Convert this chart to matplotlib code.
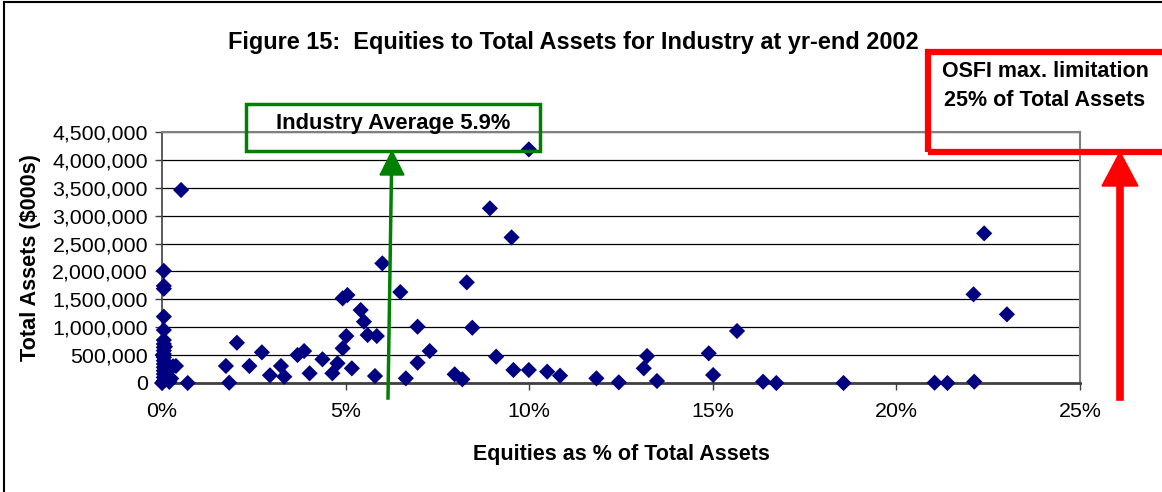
import matplotlib
matplotlib.use("Agg")
import matplotlib.pyplot as plt
from matplotlib.lines import Line2D
from matplotlib.patches import Polygon, Rectangle
from matplotlib.ticker import FuncFormatter, MultipleLocator

plt.rcParams['font.family'] = ['Liberation Sans', 'DejaVu Sans']

title = "Figure 15:  Equities to Total Assets for Industry at yr-end 2002"
x_label = "Equities as % of Total Assets"
y_label = "Total Assets ($000s)"
avg_label = "Industry Average 5.9%"
osfi_label = "OSFI max. limitation\n25% of Total Assets"

# equity share (fraction of total assets) and total assets ($000s)
equity_pct = [
    0.0005, 0.0005, 0.0005, 0.0005, 0.0005, 0.0005, 0.0005, 0.0005, 0.0005,
    0.0005, 0.0005, 0.0005, 0.0005, 0.0005, 0.0005, 0.0005, 0.0005, 0.0005,
    0.0000, 0.0010, 0.0010, 0.0012, 0.0015, 0.0020, 0.0025, 0.0030, 0.0038,
    0.0020, 0.0002, 0.0008,
    0.0052, 0.0070, 0.0174, 0.0183, 0.0204, 0.0238, 0.0272, 0.0294, 0.0324,
    0.0333, 0.0369, 0.0387, 0.0402, 0.0437, 0.0464, 0.0478, 0.0492, 0.0502,
    0.0492, 0.0505, 0.0517, 0.0541, 0.0550, 0.0560, 0.0585, 0.0580, 0.0600,
    0.0649, 0.0664, 0.0696, 0.0696, 0.0729, 0.0797, 0.0818, 0.0830, 0.0845,
    0.0893, 0.0910, 0.0952, 0.0957, 0.0999, 0.0999, 0.1049, 0.1084, 0.1183,
    0.1244, 0.1321, 0.1312, 0.1348, 0.1489, 0.1501, 0.1566, 0.1637, 0.1673,
    0.1856, 0.2104, 0.2139, 0.2212, 0.2210, 0.2239, 0.2301,
]
total_assets = [
    2010000, 1740000, 1690000, 1190000, 950000, 770000, 700000, 640000, 580000,
    520000, 460000, 400000, 340000, 280000, 220000, 160000, 100000, 40000,
    0, 60000, 200000, 350000, 120000, 250000, 80000, 300000, 305000,
    20000, 500000, 650000,
    3460000, 0, 305000, 5000, 722000, 305000, 550000, 138000, 305000,
    113000, 502000, 573000, 174000, 425000, 174000, 353000, 622000, 842000,
    1518000, 1577000, 263000, 1308000, 1099000, 860000, 842000, 125000, 2145000,
    1630000, 84000, 1009000, 364000, 573000, 156000, 66000, 1805000, 991000,
    3131000, 472000, 2611000, 233000, 4188000, 233000, 203000, 131000, 84000,
    12000, 484000, 263000, 36000, 532000, 143000, 932000, 23000, 0,
    0, 5000, 0, 23000, 1590000, 2683000, 1231000,
]

W, H = 1162, 492
fig = plt.figure(figsize=(W / 100, H / 100), dpi=100)
fig.patch.set_facecolor('white')


def fx(x):
    return x / W


def fy(y):
    return 1 - y / H


ax = fig.add_axes([fx(162), fy(383), fx(1080) - fx(162), fy(132) - fy(383)])
ax.scatter(equity_pct, total_assets, marker='D', s=68, color='#000080',
           edgecolors='none', zorder=3, clip_on=False)

ax.set_xlim(0, 0.25)
ax.set_ylim(0, 4500000)
ax.xaxis.set_major_locator(MultipleLocator(0.05))
ax.yaxis.set_major_locator(MultipleLocator(500000))
ax.xaxis.set_major_formatter(FuncFormatter(lambda v, p: f"{v*100:.0f}%"))
ax.yaxis.set_major_formatter(FuncFormatter(lambda v, p: f"{v:,.0f}"))
ax.grid(axis='y', color='black', linewidth=0.9)
ax.set_axisbelow(True)
for s in ['top', 'right']:
    ax.spines[s].set_color('#808080')
    ax.spines[s].set_linewidth(1.5)
ax.spines['left'].set_color('#404040')
ax.spines['left'].set_linewidth(1.2)
ax.spines['bottom'].set_color('#404040')
ax.spines['bottom'].set_linewidth(2.0)
ax.tick_params(axis='both', direction='out', length=5, width=1, color='#404040',
               labelsize=15.4, pad=5)
ax.tick_params(axis='x', pad=9)
ax.set_xlabel(x_label, fontsize=15.5, fontweight='bold', labelpad=16)
ax.set_ylabel(y_label, fontsize=15.6, fontweight='bold', labelpad=8)

fig.text(fx(573), fy(42), title, fontsize=16.9, fontweight='bold',
         ha='center', va='center')

# figure border (left & top visible)
fig.add_artist(Line2D([fx(4), fx(4)], [fy(2), fy(492)], color='black', lw=1.5))
fig.add_artist(Line2D([fx(4), fx(1162)], [fy(2), fy(2)], color='black', lw=1.5))

# Industry average box + arrow
green = '#008000'
fig.add_artist(Rectangle((fx(246), fy(151)), fx(540) - fx(246), fy(104) - fy(151),
                         fill=False, edgecolor=green, lw=2.5, zorder=5))
fig.text(fx(393), fy(124), avg_label, fontsize=15.8, fontweight='bold',
         ha='center', va='center', zorder=6)
fig.add_artist(Line2D([fx(388), fx(391.5)], [fy(398), fy(172)], color=green, lw=2.5, zorder=6))
fig.add_artist(Polygon([(fx(380), fy(175)), (fx(404), fy(175)), (fx(392), fy(151))],
                       closed=True, facecolor=green, edgecolor=green, zorder=6))

# OSFI box + arrow
red = '#ff0000'
fig.add_artist(Rectangle((fx(928), fy(152)), fx(1200) - fx(928), fy(52) - fy(152),
                         fill=False, edgecolor=red, lw=4.5, zorder=5, clip_on=False))
fig.text(fx(1045), fy(86), osfi_label, fontsize=15.5, fontweight='bold',
         ha='center', va='center', linespacing=1.45, zorder=6)
fig.add_artist(Line2D([fx(1120), fx(1120)], [fy(397), fy(180)], color=red, lw=5.5, zorder=6))
fig.add_artist(Polygon([(fx(1102), fy(186)), (fx(1138), fy(186)), (fx(1120), fy(152))],
                       closed=True, facecolor=red, edgecolor=red, zorder=6))

fig.savefig("out.png", dpi=100)
